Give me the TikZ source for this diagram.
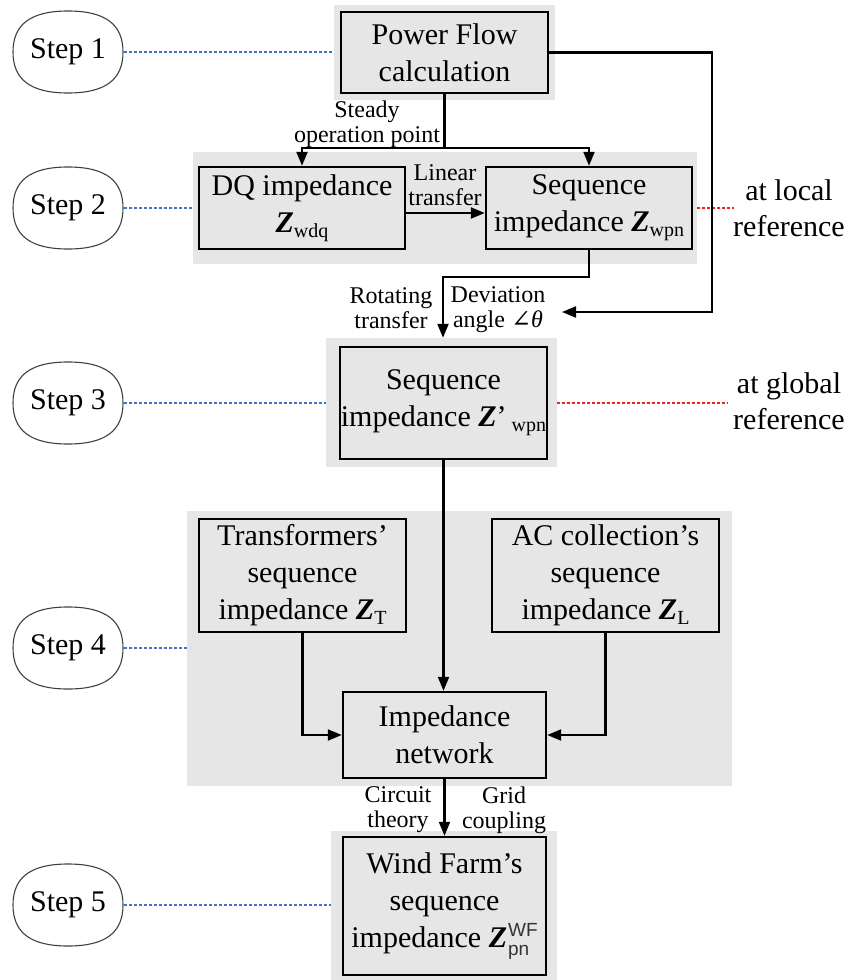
\RequirePackage{fix-cm}
\documentclass[tikz,border=0pt]{standalone}
\usepackage{fontspec}
\setmainfont{Liberation Serif}
\newfontfamily\wfsans{Liberation Sans}
\newfontfamily\symserif{DejaVu Serif}
\usetikzlibrary{arrows.meta,calc}
\definecolor{bggray}{HTML}{E6E6E6}
\definecolor{boxgray}{HTML}{E6E6E6}
\definecolor{dotblue}{HTML}{4472C4}
\definecolor{dotred}{HTML}{F02020}
\newcommand{\Zb}{\textbf{\textit{Z}}}
\newcommand{\zsub}[1]{\raisebox{-5pt}{\fontsize{20}{20}\selectfont #1}}
\newcommand{\zwf}{\Zb\hspace{1pt}\rlap{\raisebox{-8pt}{\color{black!80}\wfsans\fontsize{19}{19}\selectfont pn}}\raisebox{11pt}{\color{black!80}\wfsans\fontsize{19}{19}\selectfont WF}}
\newcommand{\stepoval}[1]{%
  \draw[stepline] ([shift={(55,0)}]#1.center)
    .. controls ([shift={(55,-28)}]#1.center) and ([shift={(37,-41)}]#1.center) .. ([shift={(0,-41)}]#1.center)
    .. controls ([shift={(-37,-41)}]#1.center) and ([shift={(-55,-28)}]#1.center) .. ([shift={(-55,0)}]#1.center)
    .. controls ([shift={(-55,28)}]#1.center) and ([shift={(-37,41)}]#1.center) .. ([shift={(0,41)}]#1.center)
    .. controls ([shift={(37,41)}]#1.center) and ([shift={(55,28)}]#1.center) .. cycle;}
\tikzset{
  bgbox/.style={fill=bggray, draw=none, inner sep=0pt},
  box/.style={draw=black, line width=2.4pt, fill=boxgray, align=center, inner sep=0pt,
    font={\fontsize{30}{37}\selectfont}},
  stepnode/.style={draw=none, minimum width=110pt, minimum height=82pt, inner sep=0pt,
    font={\fontsize{30}{36}\selectfont}},
  stepline/.style={draw=black!75, line width=1.1pt},
  conn/.style={line width=2.1pt, draw=black},
  arr/.style={conn, -{Triangle[length=14pt,width=11pt]}},
  bluedot/.style={draw=dotblue, line width=2pt, dash pattern=on 3pt off 2pt},
  reddot/.style={draw=dotred, line width=2pt, dash pattern=on 3pt off 2pt},
  lbl/.style={font={\fontsize{24}{25}\selectfont}, align=center, inner sep=0pt},
  side/.style={font={\fontsize{30}{36}\selectfont}, align=center, inner sep=0pt},
}
\begin{document}
\begin{tikzpicture}[x=1pt,y=-1pt]
\useasboundingbox (0,0) rectangle (849,980);
% backgrounds
\node[bgbox, minimum width=221pt, minimum height=95pt] (bg1) at (444.5,52.5) {};
\node[bgbox, minimum width=504pt, minimum height=112pt] (bg2) at (445,208) {};
\node[bgbox, minimum width=231pt, minimum height=129pt] (bg3) at (441.5,402.5) {};
\node[bgbox, minimum width=545pt, minimum height=275pt] (bg4) at (459.5,648.5) {};
\node[bgbox, minimum width=226pt, minimum height=149pt] (bg5) at (444,905.5) {};
% steps
\node[stepnode] (s1) at (68,52) {Step 1};
\node[stepnode] (s2) at (68,208) {Step 2};
\node[stepnode] (s3) at (68,403) {Step 3};
\node[stepnode] (s4) at (68,648) {Step 4};
\node[stepnode] (s5) at (68,905) {Step 5};
\stepoval{s1}\stepoval{s2}\stepoval{s3}\stepoval{s4}\stepoval{s5}
% boxes
\node[box, minimum width=207pt, minimum height=81pt] (pf) at (444.5,52.5) {Power Flow\\calculation};
\node[box, minimum width=206pt, minimum height=82pt] (dq) at (302,208) {DQ impedance\\\Zb\zsub{wdq}};
\node[box, minimum width=206pt, minimum height=82pt] (seq) at (589,208) {Sequence\\impedance \Zb\zsub{wpn}};
\node[box, minimum width=207pt, minimum height=112pt] (seqp) at (443.5,403) {Sequence\\impedance \Zb’\,\zsub{wpn}};
\node[box, minimum width=207pt, minimum height=113pt] (tr) at (302.5,575.5) {Transformers’\\sequence\\impedance \Zb\zsub{T}};
\node[box, minimum width=227pt, minimum height=113pt] (ac) at (605.5,575.5) {AC collection’s\\sequence\\impedance \Zb\zsub{L}};
\node[box, minimum width=203pt, minimum height=86pt] (imp) at (444.5,735) {Impedance\\network};
\node[box, minimum width=203pt, minimum height=138pt] (wf) at (444.5,906) {Wind Farm’s\\sequence\\impedance \zwf};
% dotted leaders
\draw[bluedot] ([xshift=1pt]s1.east) -- (bg1.west |- s1);
\draw[bluedot] ([xshift=1pt]s2.east) -- (bg2.west |- s2);
\draw[bluedot] ([xshift=1pt]s3.east) -- (bg3.west |- s3);
\draw[bluedot] ([xshift=1pt]s4.east) -- (bg4.west |- s4);
\draw[bluedot] ([xshift=1pt]s5.east) -- (bg5.west |- s5);
\coordinate (r2) at (734,208);
\coordinate (r3) at (728,403);
\draw[reddot] (bg2.east |- r2) -- (r2);
\draw[reddot] (bg3.east |- r3) -- (r3);
% side texts
\node[side] (loc) at (789,208) {at local\\reference};
\node[side] (glob) at (789,401) {at global\\reference};
% connectors
\coordinate (split) at (444.5,148);
\draw[conn] (pf.south) -- (split);
\draw[arr] (split) -| (dq.north);
\draw[arr] (split) -| (seq.north);
\draw[arr] ([yshift=-5pt]dq.east) -- ([yshift=-5pt]seq.west);
\coordinate (rot) at (443,277);
\draw[arr] (seq.south) |- (rot) -- (rot |- bg3.north);
\coordinate (corner) at (712,312);
\coordinate (dev) at (562,312);
\draw[arr] (pf.east) -| (corner) -- (dev);
\draw[arr] (seqp.south) -- (seqp.south |- imp.north);
\draw[arr] (tr.south) |- (imp.west);
\draw[arr] (ac.south) |- (imp.east);
\draw[arr] (imp.south) -- (wf.north);
% labels
\node[lbl] (lsteady) at (367,124) {Steady\\operation point};
\node[lbl] (llin) at (445,185) {Linear\\transfer};
\node[lbl] (lrot) at (391,308) {Rotating\\transfer};
\node[lbl] (ldev) at (498,310) {Deviation\\angle {\symserif ∠}\textit{θ}};
\node[lbl] (lcir) at (398,810) {Circuit\\theory};
\node[lbl] (lgrid) at (504,810) {Grid\\coupling};
\end{tikzpicture}
\end{document}
